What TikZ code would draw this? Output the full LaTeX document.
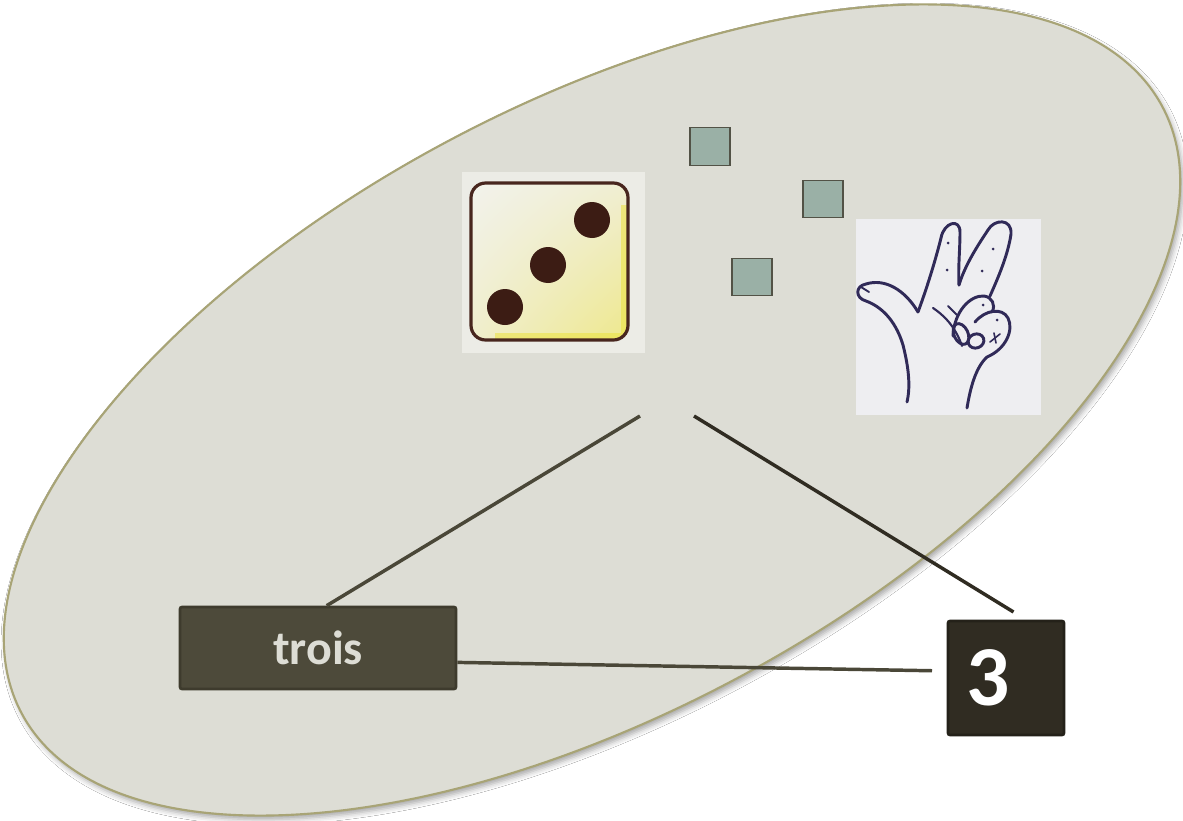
\documentclass[tikz,border=0pt]{standalone}
\usepackage{fontspec}
\setmainfont{Carlito}
\usetikzlibrary{calc,shadings,shadows.blur}

\definecolor{ovalfill}{RGB}{221,221,213}
\definecolor{ovalline}{RGB}{168,164,118}
\definecolor{dicepane}{RGB}{236,236,230}
\definecolor{diceul}{RGB}{242,242,236}
\definecolor{diceur}{RGB}{240,238,210}
\definecolor{dicell}{RGB}{240,238,205}
\definecolor{dicelr}{RGB}{238,232,140}
\definecolor{diceedge}{RGB}{236,226,60}
\definecolor{dicerim}{RGB}{72,38,30}
\definecolor{pip}{RGB}{60,28,20}
\definecolor{handpane}{RGB}{238,238,241}
\definecolor{handink}{RGB}{48,42,88}
\definecolor{tokenfill}{RGB}{154,176,166}
\definecolor{tokenline}{RGB}{82,82,70}
\definecolor{troisfill}{RGB}{77,74,58}
\definecolor{troisline}{RGB}{62,59,45}
\definecolor{threefill}{RGB}{48,44,34}
\definecolor{threeline}{RGB}{36,33,25}
\definecolor{linkcol}{RGB}{74,71,56}
\definecolor{linkdark}{RGB}{48,44,34}

\begin{document}
\begin{tikzpicture}[x=0.75pt,y=0.75pt,yscale=-1,xscale=1,
  link/.style={draw=linkcol,line width=2.6pt},
  token/.style={draw=tokenline,fill=tokenfill,line width=0.9pt,minimum width=30pt,minimum height=28pt,inner sep=0pt},
  wordbox/.style={draw=troisline,fill=troisfill,line width=2pt,rounded corners=1.5pt,text=ovalfill,font=\bfseries\fontsize{36}{40}\selectfont,minimum width=207pt,minimum height=61.5pt},
  numbox/.style={draw=threeline,fill=threefill,line width=2pt,rounded corners=1.5pt,text=white,font=\bfseries\fontsize{64}{68}\selectfont,minimum width=87pt,minimum height=85.5pt,inner sep=0pt},
  ink/.style={draw=handink,line width=2.2pt,line cap=round,line join=round}]
\useasboundingbox (0,0) rectangle (1183,821);
\fill[white] (0,0) rectangle (1183,821);
\draw[ovalline,fill=ovalfill,line width=1.6pt,rotate around={-28:(592,410)},
  blur shadow={shadow xshift=2pt,shadow yshift=-3pt,shadow blur radius=4pt,shadow opacity=35}]
  (592,410) ellipse [x radius=646, y radius=305];

\fill[dicepane] (462,172) rectangle (645,353);
\shade[rounded corners=11pt,upper left=diceul,upper right=diceur,lower left=dicell,lower right=dicelr] (471,183) rectangle (628,340);
\begin{scope}
  \clip[rounded corners=11pt] (471,183) rectangle (628,340);
  \draw[diceedge,line width=4pt,opacity=0.55] (624,205) -- (624,336) -- (495,336);
\end{scope}
\draw[dicerim,line width=2.4pt,rounded corners=11pt] (471,183) rectangle (628,340);
\fill[pip] (592,220) circle [radius=18];
\fill[pip] (548,265) circle [radius=18];
\fill[pip] (505,307) circle [radius=18];

\node[token] (sqa) at (710,146.5) {};
\node[token] (sqb) at (823,199) {};
\node[token] (sqc) at (752,277) {};

\fill[handpane] (856,219) rectangle (1041,415);
\draw[ink] (918,312) .. controls (928,285) and (936,258) .. (941,238) .. controls (944,222) and (960,218) .. (960,232) .. controls (960,250) and (958,268) .. (959,285);
\draw[ink] (959,285) .. controls (965,265) and (978,245) .. (988,230) .. controls (994,219) and (1012,218) .. (1011,234) .. controls (1008,255) and (998,278) .. (990,296);
\draw[ink] (918,312) .. controls (905,290) and (885,278) .. (866,284) .. controls (855,286) and (855,298) .. (866,301) .. controls (885,308) and (897,325) .. (903,345) .. controls (908,365) and (911,385) .. (907,402);
\draw[ink,line width=1.4pt] (861,287) -- (869,292);
\draw[ink] (953,336) .. controls (954,312) and (970,295) .. (984,296) .. controls (992,297) and (996,305) .. (992,312);
\draw[ink] (975,322) .. controls (985,310) and (1002,307) .. (1008,318) .. controls (1014,330) and (1006,349) .. (987,357) .. controls (975,368) and (970,390) .. (967,408);
\draw[ink,rotate around={-25:(961,334)}] (961,334) ellipse [x radius=7, y radius=11];
\draw[ink,rotate around={-20:(976,341)}] (976,341) ellipse [x radius=8, y radius=7];
\draw[ink,line width=1.6pt] (933,308) .. controls (942,314) and (955,325) .. (962,346);
\draw[ink,line width=1.4pt] (948,306) -- (957,315);
\draw[ink,line width=1.2pt] (990,342) -- (1000,334);
\draw[ink,line width=1.2pt] (994,333) -- (996,343);
\fill[handink] (948,243) circle [radius=1.5];
\fill[handink] (947,270) circle [radius=1.5];
\fill[handink] (993,249) circle [radius=1.5];
\fill[handink] (982,271) circle [radius=1.5];
\fill[handink] (983,305) circle [radius=1.5];
\fill[handink] (997,320) circle [radius=1.5];

\node[wordbox] (trois) at (318,648) {trois};
\node[numbox] (three) at (1006,678) {3\kern27pt};

\coordinate (apexL) at (640,416);
\coordinate (apexR) at (694,416);
\draw[link] (apexL) -- ([xshift=6.5pt]trois.north);
\draw[link,draw=linkdark,shorten >=11pt] (apexR) -- ([xshift=15pt]three.north);
\draw[link,shorten >=11pt] ($(trois.east)!0.34!(trois.south east)$) -- ($(three.west)!0.12!(three.north west)$);
\end{tikzpicture}
\end{document}
